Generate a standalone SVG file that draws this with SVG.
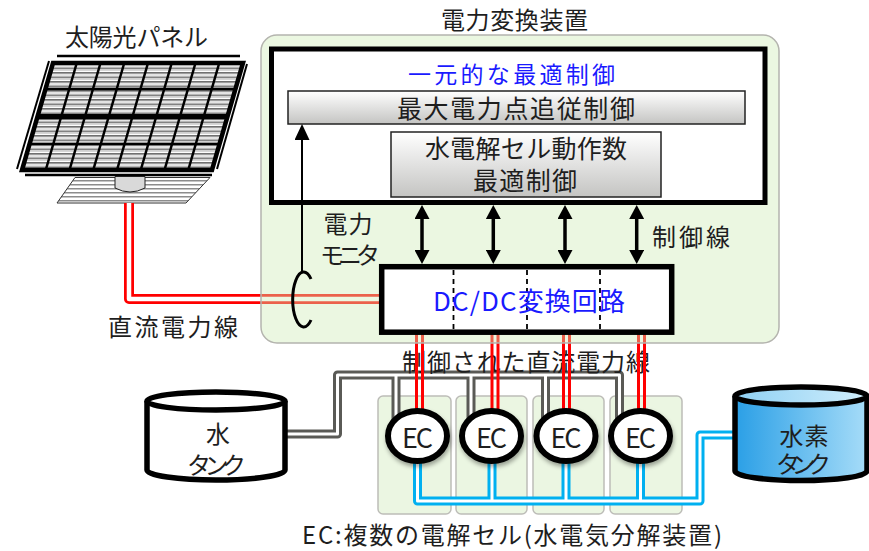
<svg xmlns="http://www.w3.org/2000/svg" width="869" height="551" viewBox="0 0 869 551">
  <style>
    text { font-family: "Noto Sans CJK JP", "Noto Sans", sans-serif; fill: #1e1e1e; }
    .t24 { font-size: 24px; }
    .t25 { font-size: 25px; }
    .t23 { font-size: 23px; }
    .blue { fill: #1a1aff; }
    .ec { font-size: 27px; }
    .redO { fill: none; stroke: #ff0000; stroke-linejoin: round; }
    .redT { stroke: #ff0000; stroke-width: 3; }
    .core { fill: none; stroke: #ffffff; stroke-linejoin: round; }
    .grayO { fill: none; stroke: #5a5a56; stroke-width: 9; stroke-linejoin: round; }
    .blueO { fill: none; stroke: #00b0f0; stroke-width: 9; stroke-linejoin: round; }
    .cell { fill: #ebf6e2; stroke: #bdbdb8; stroke-width: 1.5; }
    .gbox { stroke: #222; stroke-width: 1.5; }
    .grid { stroke: #000; stroke-width: 2.5; }
    .tank { stroke: #000; stroke-width: 5.5; }
    .ecc { fill: #fff; stroke: #000; stroke-width: 6; }
    .dash { stroke: #000; stroke-width: 1.8; stroke-dasharray: 5 4; }
    .dbl { stroke: #000; stroke-width: 3.5; marker-start: url(#head); marker-end: url(#head); }
  </style>
  <defs>
    <marker id="head" markerUnits="userSpaceOnUse" viewBox="0 0 14 15" markerWidth="14" markerHeight="15" refX="10" refY="7.5" orient="auto-start-reverse">
      <path d="M0,0 L14,7.5 L0,15 Z" fill="#000"/>
    </marker>
    <marker id="headS" markerUnits="userSpaceOnUse" viewBox="0 0 16 15" markerWidth="16" markerHeight="15" refX="13" refY="7.5" orient="auto">
      <path d="M0,0 L16,7.5 L0,15 Z" fill="#000"/>
    </marker>
    <linearGradient id="boxGrad" x1="0" y1="0" x2="0" y2="1">
      <stop offset="0" stop-color="#ffffff"/>
      <stop offset="1" stop-color="#c4c4c2"/>
    </linearGradient>
    <linearGradient id="h2Body" x1="0" y1="0" x2="1" y2="0">
      <stop offset="0" stop-color="#2a9fe6"/>
      <stop offset="1" stop-color="#a6dcf8"/>
    </linearGradient>
    <linearGradient id="h2Top" x1="0" y1="0" x2="1" y2="0">
      <stop offset="0" stop-color="#8fd0f3"/>
      <stop offset="1" stop-color="#d0eefc"/>
    </linearGradient>
    <pattern id="cellStripes" patternUnits="userSpaceOnUse" width="10" height="4.5">
      <rect width="10" height="4.5" fill="#ffffff"/>
      <rect y="0" width="10" height="1.6" fill="#6e6e6e"/>
      <rect y="2.4" width="10" height="0.9" fill="#bdbdbd"/>
    </pattern>
    <pattern id="standStripes" patternUnits="userSpaceOnUse" width="10" height="4">
      <rect width="10" height="4" fill="#ffffff"/>
      <rect y="0" width="10" height="1.5" fill="#8c8c8c"/>
    </pattern>
    <filter id="shadow" x="-30%" y="-30%" width="160%" height="170%">
      <feDropShadow dx="1" dy="3" stdDeviation="2" flood-color="#000" flood-opacity="0.35"/>
    </filter>
  </defs>

  <!-- solar panel -->
  <g id="solar-panel">
    <line x1="57" y1="56" x2="240" y2="56" stroke="#000" stroke-width="2.5"/>
    <line x1="49" y1="61" x2="17" y2="169" stroke="#000" stroke-width="2"/>
    <line x1="247" y1="64" x2="217" y2="169" stroke="#000" stroke-width="2"/>
    <polygon points="53,63 243,63 212,170 22,170" fill="url(#cellStripes)" stroke="#000" stroke-width="4.5"/>
    <polygon points="38.2,114 228.2,114 226.8,119.5 36.6,119.5" fill="#000"/>
    <g class="grid">
      <line x1="45.5" y1="89" x2="235.5" y2="89"/>
      <line x1="29.5" y1="144" x2="219.5" y2="144"/>
      <line x1="76.75" y1="63" x2="45.75" y2="170"/>
      <line x1="100.5" y1="63" x2="69.5" y2="170"/>
      <line x1="124.25" y1="63" x2="93.25" y2="170"/>
      <line x1="148" y1="63" x2="117" y2="170"/>
      <line x1="171.75" y1="63" x2="140.75" y2="170"/>
      <line x1="195.5" y1="63" x2="164.5" y2="170"/>
      <line x1="219.25" y1="63" x2="188.25" y2="170"/>
    </g>
    <line x1="25" y1="175" x2="212" y2="175" stroke="#000" stroke-width="2.5"/>
    <polygon points="75,177.5 210,177.5 186,203 57,203" fill="url(#standStripes)" stroke="#333" stroke-width="1"/>
    <path d="M115,176.5 L115,188 Q130,196 145,188 L145,176.5 Z" fill="#d9d9d9" stroke="#222" stroke-width="1"/>
    <text class="t24" x="136.5" y="46" text-anchor="middle" textLength="143">太陽光パネル</text>
  </g>

  <!-- electrolysis cell slots -->
  <g id="cell-slots">
    <rect class="cell" x="378" y="396" width="73" height="118" rx="5"/>
    <rect class="cell" x="456" y="396" width="71" height="118" rx="5"/>
    <rect class="cell" x="533" y="396" width="71" height="118" rx="5"/>
    <rect class="cell" x="610" y="396" width="72" height="118" rx="5"/>
  </g>

  <!-- connectors: power, water and hydrogen lines -->
  <g id="connectors">
    <!-- water supply (gray double lines) -->
    <path class="grayO" d="M285,434 L337.5,434 L337.5,375 L619.5,375 L619.5,425 M396,375 L396,425 M471,375 L471,425 M545.5,375 L545.5,425"/>
    <path class="core" stroke-width="3" d="M285,434 L337.5,434 L337.5,375 L619.5,375 L619.5,425 M396,375 L396,425 M471,375 L471,425 M545.5,375 L545.5,425"/>
    <!-- hydrogen output (blue double lines) -->
    <path class="blueO" d="M738,435 L700,435 L700,501 L417.5,501 L417.5,455 M492,501 L492,455 M566,501 L566,455 M640.5,501 L640.5,455"/>
    <path class="core" stroke-width="3" d="M738,435 L700,435 L700,501 L417.5,501 L417.5,455 M492,501 L492,455 M566,501 L566,455 M640.5,501 L640.5,455"/>
    <!-- DC power line from the panel (red double line) -->
    <path class="redO" d="M129,203 L129,299 L384,299" stroke-width="10"/>
    <path class="core" d="M129,203 L129,299 L384,299" stroke-width="4.5"/>
  </g>

  <text id="label-controlled-dc" class="t24" x="526" y="371" text-anchor="middle" textLength="248">制御された直流電力線</text>

  <!-- controlled DC lines to each cell -->
  <g id="controlled-dc-lines" class="redT">
    <line x1="416.5" y1="331" x2="416.5" y2="414"/>
    <line x1="422.5" y1="331" x2="422.5" y2="414"/>
    <line x1="492" y1="331" x2="492" y2="414"/>
    <line x1="498" y1="331" x2="498" y2="414"/>
    <line x1="563.5" y1="331" x2="563.5" y2="414"/>
    <line x1="569.5" y1="331" x2="569.5" y2="414"/>
    <line x1="638.5" y1="331" x2="638.5" y2="414"/>
    <line x1="644.5" y1="331" x2="644.5" y2="414"/>
  </g>

  <!-- power conversion unit -->
  <g id="converter-unit">
    <rect x="261" y="35" width="518" height="308" rx="16" fill="rgb(207,236,183)" fill-opacity="0.41" stroke="#b4b4ae" stroke-width="1.5"/>
    <text class="t24" x="514.5" y="29" text-anchor="middle" textLength="147">電力変換装置</text>
  </g>

  <g id="controller">
    <rect x="271.5" y="49" width="493.5" height="153.5" fill="#fff" stroke="#000" stroke-width="5"/>
    <text class="t23 blue" x="511.5" y="83" text-anchor="middle" textLength="207">一元的な最適制御</text>
  </g>

  <g id="mppt">
    <rect class="gbox" x="288" y="91" width="457" height="33" fill="url(#boxGrad)"/>
    <text class="t25" x="516" y="118" text-anchor="middle" textLength="238">最大電力点追従制御</text>
  </g>

  <g id="cell-count-control">
    <rect class="gbox" x="391" y="132" width="270" height="65" fill="url(#boxGrad)"/>
    <text class="t25" x="526" y="158" text-anchor="middle" textLength="202">水電解セル動作数</text>
    <text class="t25" x="525" y="190" text-anchor="middle" textLength="104">最適制御</text>
  </g>

  <g id="dcdc">
    <rect x="381.7" y="266.7" width="290" height="65.5" fill="#fff" stroke="#000" stroke-width="5.5"/>
    <line class="dash" x1="453.5" y1="270" x2="453.5" y2="330"/>
    <line class="dash" x1="527" y1="270" x2="527" y2="330"/>
    <line class="dash" x1="600" y1="270" x2="600" y2="330"/>
    <text class="blue" font-size="26" x="529" y="311" text-anchor="middle" textLength="192">DC/DC変換回路</text>
  </g>

  <!-- control lines and power monitor -->
  <g id="control-lines">
    <line class="dbl" x1="422" y1="209" x2="422" y2="260"/>
    <line class="dbl" x1="493.3" y1="209" x2="493.3" y2="260"/>
    <line class="dbl" x1="565" y1="209" x2="565" y2="260"/>
    <line class="dbl" x1="636.7" y1="209" x2="636.7" y2="260"/>
    <text class="t24" x="691" y="246" text-anchor="middle" textLength="78">制御線</text>
  </g>

  <g id="power-monitor">
    <line x1="302" y1="273" x2="302" y2="127" stroke="#000" stroke-width="2" marker-end="url(#headS)"/>
    <path d="M311,279 A11,27.5 0 1 0 311,320" fill="none" stroke="#000" stroke-width="3"/>
    <text class="t24" x="348" y="233" text-anchor="middle" textLength="49">電力</text>
    <text class="t24" x="350" y="264" text-anchor="middle" textLength="60">モニタ</text>
  </g>

  <text id="label-dc-line" class="t24" x="173" y="336" text-anchor="middle" textLength="130">直流電力線</text>

  <!-- water tank -->
  <g id="water-tank">
    <path class="tank" d="M147,401 L147,470 A69,10 0 0 0 285,470 L285,401" fill="#fff"/>
    <ellipse class="tank" cx="216" cy="401" rx="69" ry="9" fill="#fff"/>
    <text class="t24" x="218" y="443" text-anchor="middle">水</text>
    <text class="t24" x="216.5" y="474" text-anchor="middle" textLength="59">タンク</text>
  </g>

  <!-- hydrogen tank -->
  <g id="hydrogen-tank">
    <path class="tank" d="M735,396 L735,471 A66,9.5 0 0 0 867,471 L867,396" fill="url(#h2Body)"/>
    <ellipse class="tank" cx="801" cy="396" rx="66" ry="9" fill="url(#h2Top)"/>
    <text class="t24" x="804" y="445" text-anchor="middle" textLength="49">水素</text>
    <text class="t24" x="803.5" y="473" text-anchor="middle" textLength="55">タンク</text>
  </g>

  <!-- electrolysis cells -->
  <g id="ec1">
    <ellipse class="ecc" cx="417.5" cy="436" rx="29.5" ry="25" filter="url(#shadow)"/>
    <text class="ec" x="417.5" y="448" text-anchor="middle" textLength="31">EC</text>
  </g>
  <g id="ec2">
    <ellipse class="ecc" cx="491.5" cy="436" rx="29.5" ry="25" filter="url(#shadow)"/>
    <text class="ec" x="491.5" y="448" text-anchor="middle" textLength="31">EC</text>
  </g>
  <g id="ec3">
    <ellipse class="ecc" cx="566" cy="436" rx="29.5" ry="25" filter="url(#shadow)"/>
    <text class="ec" x="566" y="448" text-anchor="middle" textLength="31">EC</text>
  </g>
  <g id="ec4">
    <ellipse class="ecc" cx="640.5" cy="436" rx="29.5" ry="25" filter="url(#shadow)"/>
    <text class="ec" x="640.5" y="448" text-anchor="middle" textLength="31">EC</text>
  </g>

  <text id="caption" class="t24" x="512" y="544" text-anchor="middle" textLength="420">EC:複数の電解セル(水電気分解装置)</text>
</svg>
